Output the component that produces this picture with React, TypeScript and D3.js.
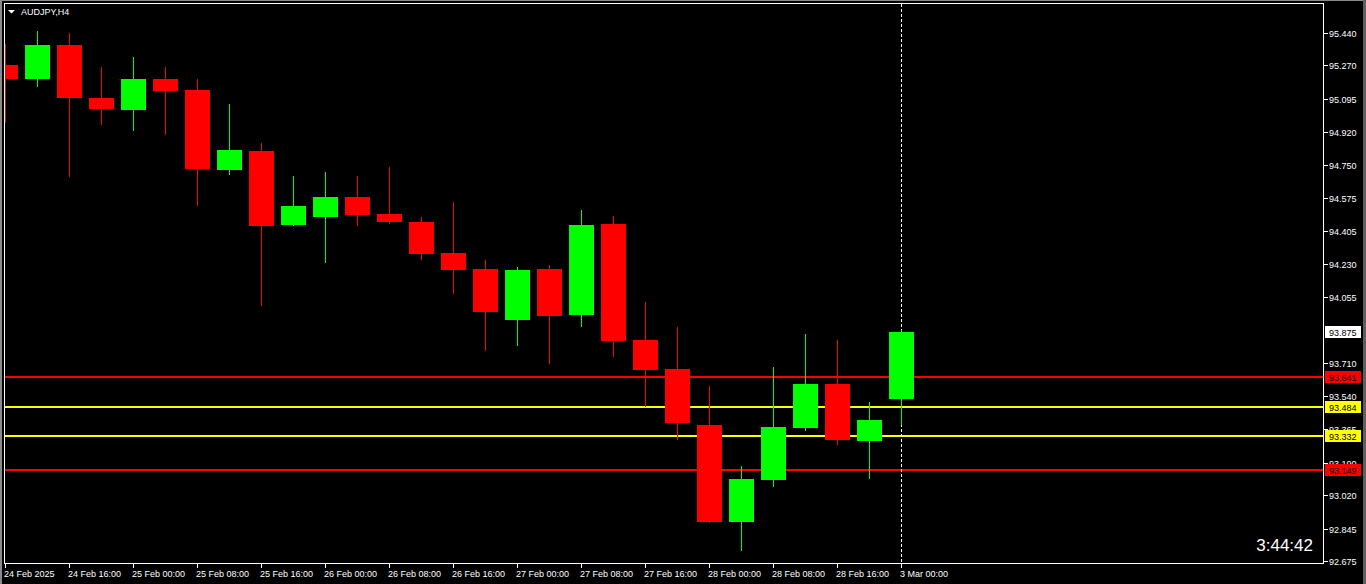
import React from 'react';
import * as d3 from 'd3';

const W = 1366;
const H = 584;

const opens = [95.272, 95.199, 95.377, 95.100, 95.037, 95.199, 95.141, 94.723, 94.822, 94.435, 94.476, 94.581, 94.492, 94.450, 94.288, 94.204, 93.937, 94.204, 93.963, 94.440, 93.832, 93.680, 93.387, 92.879, 93.099, 93.371, 93.602, 93.303, 93.523];
const highs = [95.382, 95.450, 95.440, 95.262, 95.314, 95.262, 95.199, 95.068, 94.864, 94.691, 94.712, 94.691, 94.738, 94.476, 94.555, 94.251, 94.215, 94.225, 94.513, 94.482, 94.031, 93.900, 93.591, 93.172, 93.691, 93.864, 93.832, 93.508, 93.885];
const lows = [94.970, 95.159, 94.687, 94.960, 94.928, 94.907, 94.536, 94.696, 94.012, 94.429, 94.236, 94.429, 94.440, 94.251, 94.073, 93.775, 93.801, 93.707, 93.900, 93.743, 93.481, 93.309, 92.874, 92.727, 93.063, 93.356, 93.283, 93.104, 93.387];
const closes = [95.199, 95.377, 95.101, 95.042, 95.199, 95.136, 94.728, 94.827, 94.431, 94.534, 94.581, 94.487, 94.450, 94.283, 94.199, 93.979, 94.199, 93.958, 94.435, 93.827, 93.675, 93.398, 92.879, 93.104, 93.377, 93.602, 93.309, 93.413, 93.875];

const xLabelIdx = [0, 2, 4, 6, 8, 10, 12, 14, 16, 18, 20, 22, 24, 26, 28];
const xLabels = ["24 Feb 2025", "24 Feb 16:00", "25 Feb 00:00", "25 Feb 08:00", "25 Feb 16:00", "26 Feb 00:00", "26 Feb 08:00", "26 Feb 16:00", "27 Feb 00:00", "27 Feb 08:00", "27 Feb 16:00", "28 Feb 00:00", "28 Feb 08:00", "28 Feb 16:00", "3 Mar 00:00"];

const yTicks = [95.440, 95.270, 95.095, 94.920, 94.750, 94.575, 94.405, 94.230, 94.055, 93.710, 93.540, 93.365, 93.190, 93.020, 92.845, 92.675];

const levelValues = [93.641, 93.484, 93.332, 93.149];
const levelColors = ["#ff0000", "#ffff00", "#ffff00", "#ff0000"];

const currentPrice = 93.875;
const symbolTitle = "AUDJPY,H4";
const timerText = "3:44:42";
const currentBarIdx = 28;

const FONT = "'Liberation Sans', Arial, sans-serif";

export default function App() {
  const left = 5, right = 1323, top = 4, bottom = 563;
  const x = d3.scaleLinear().domain([0, 28]).range([5, 901]);
  const y = d3.scaleLinear().domain([92.675, 95.44]).range([561, 33]);
  const up = "#00ff00", down = "#ff0000";
  const bodyHalf = 12;

  return (
    <svg width={W} height={H} style={{ position: 'absolute', left: 0, top: 0, display: 'block' }}
      shapeRendering="crispEdges">
      <rect x={0} y={0} width={W} height={H} fill="#000" />
      <rect x={0} y={0} width={2} height={H} fill="#8a8a8a" />
      <rect x={0} y={0} width={W} height={1} fill="#8a8a8a" />
      <rect x={1363} y={0} width={3} height={H} fill="#5f5f5f" />
      <defs>
        <clipPath id="plot">
          <rect x={left} y={top} width={right - left} height={bottom - top} />
        </clipPath>
      </defs>
      <g clipPath="url(#plot)">
        {levelValues.map((v, i) => (
          <rect key={'l' + i} x={left} y={Math.round(y(v)) - 1} width={right - left} height={2} fill={levelColors[i]} />
        ))}
        <line x1={x(currentBarIdx) + 0.5} x2={x(currentBarIdx) + 0.5} y1={top} y2={bottom}
          stroke="#fff" strokeWidth={1} strokeDasharray="3,2" />
        {opens.map((o, i) => {
          const c = closes[i];
          const col = c >= o ? up : down;
          const cx = Math.round(x(i));
          const yh = Math.round(y(highs[i]));
          const yl = Math.round(y(lows[i]));
          const yt = Math.round(y(Math.max(o, c)));
          const yb = Math.round(y(Math.min(o, c)));
          return (
            <g key={'c' + i}>
              <rect x={cx} y={yh} width={1} height={Math.max(1, yl - yh)} fill={col} />
              <rect x={cx - bodyHalf} y={yt} width={bodyHalf * 2 + 1} height={Math.max(1, yb - yt)} fill={col} />
            </g>
          );
        })}
      </g>
      <rect x={4.5} y={3.5} width={right - 4} height={bottom - 3} fill="none" stroke="#fff" strokeWidth={1} />
      <polygon points="8,10 15,10 11.5,13.5" fill="#fff" shapeRendering="auto" />
      <text x={21} y={15} fill="#fff" fontFamily={FONT} fontSize={9}>{symbolTitle}</text>
      {yTicks.map((v, i) => {
        const yy = Math.round(y(v));
        return (
          <g key={'yt' + i}>
            <rect x={1324} y={yy} width={4} height={1} fill="#fff" />
            <text x={1329} y={yy + 3.5} fill="#fff" fontFamily={FONT} fontSize={9}>{v.toFixed(3)}</text>
          </g>
        );
      })}
      {levelValues.map((v, i) => {
        const yy = Math.round(y(v));
        return (
          <g key={'lb' + i}>
            <rect x={1325} y={yy - 6} width={36} height={12} fill={levelColors[i]} />
            <text x={1329} y={yy + 3.5} fill="#000" fontFamily={FONT} fontSize={9}>{v.toFixed(3)}</text>
          </g>
        );
      })}
      {(() => {
        const yy = Math.round(y(currentPrice));
        return (
          <g>
            <rect x={1325} y={yy - 6} width={36} height={12} fill="#fff" />
            <text x={1329} y={yy + 3.5} fill="#000" fontFamily={FONT} fontSize={9}>{currentPrice.toFixed(3)}</text>
          </g>
        );
      })()}
      {xLabelIdx.map((idx, i) => {
        const xx = Math.round(x(idx));
        return (
          <g key={'xt' + i}>
            <rect x={xx} y={564} width={1} height={4} fill="#fff" />
            <text x={xx - 1} y={577} fill="#fff" fontFamily={FONT} fontSize={9}>{xLabels[i]}</text>
          </g>
        );
      })}
      <text x={1313} y={551} fill="#fff" fontFamily={FONT} fontSize={17} textAnchor="end">{timerText}</text>
    </svg>
  );
}
